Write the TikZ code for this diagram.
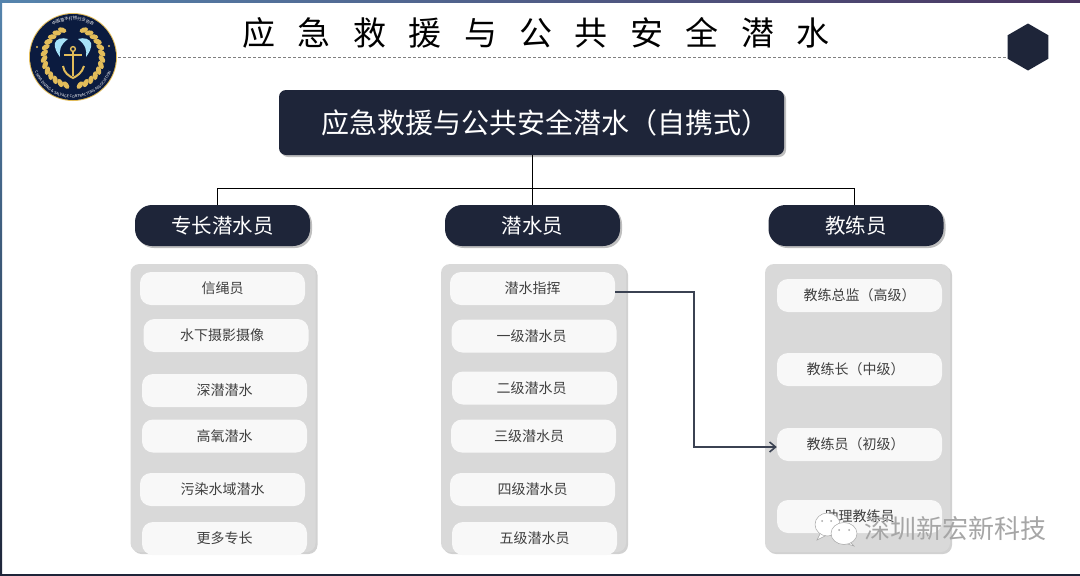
\documentclass[tikz,border=0pt]{standalone}
\usepackage{fontspec}
\usepackage{xcolor}
\setmainfont{Noto Sans CJK SC}
\newfontfamily\titlefont[LetterSpace=68]{Noto Sans CJK SC}
\usetikzlibrary{arrows.meta,positioning,calc,shapes.geometric,shadows,decorations.text}
\definecolor{navy}{HTML}{1E2539}
\definecolor{logonavy}{HTML}{0B1B3F}
\definecolor{gold}{HTML}{E2BC5A}
\definecolor{panelgray}{HTML}{D9D9D9}
\definecolor{itemwhite}{HTML}{F8F8F8}
\definecolor{linkgray}{HTML}{3B4252}
\definecolor{framestart}{HTML}{5584AD}
\definecolor{frameend}{HTML}{4A3560}

\begin{document}
\begin{tikzpicture}[
      x=1pt, y=-1pt,
      % Reusable styles
      rootbox/.style={
        fill=navy,
        text=white,
        rounded corners=7pt,
        minimum width=505pt,
        minimum height=65pt,
        inner sep=0pt,
        font=\fontsize{28}{30}\selectfont,
        drop shadow={shadow xshift=2pt, shadow yshift=-2pt, opacity=0.25, fill=black}
      },
      headbox/.style={
        fill=navy,
        text=white,
        rounded corners=17pt,
        minimum width=175pt,
        minimum height=41pt,
        inner sep=0pt,
        font=\fontsize{20.5}{24}\selectfont,
        drop shadow={shadow xshift=2pt, shadow yshift=-2pt, opacity=0.25, fill=black}
      },
      panel/.style={
        fill=panelgray,
        rounded corners=9pt,
        minimum width=185pt,
        minimum height=288pt,
        inner sep=0pt,
        drop shadow={shadow xshift=2pt, shadow yshift=-2pt, opacity=0.18, fill=black}
      },
      itembox/.style={
        fill=itemwhite,
        text=black!75,
        rounded corners=11pt,
        minimum width=165pt,
        minimum height=33pt,
        inner sep=0pt,
        font=\fontsize{14}{16}\selectfont
      },
      leaf/.style={fill=gold},
      link/.style={draw=black, line width=0.7pt},
      arrow/.style={-{Straight Barb[length=6pt,width=10pt]}, line width=1.6pt, draw=linkgray}
    ]
    \useasboundingbox (0,0) rectangle (1080,576);
    \fill[white] (0,0) rectangle (1080,576);

    % Frame
    \shade[left color=framestart, right color=frameend] (0,0) rectangle (1080,2);
    \shade[top color=framestart, bottom color=navy] (0,0) rectangle (2,576);
    \fill[navy] (0,574) rectangle (1080,576);

    % Logo
    \coordinate (logo) at (73,57);
    \fill[gold] (logo) circle[radius=44pt];
    \fill[logonavy] (logo) circle[radius=43pt];
    \foreach \a in {112,124,...,256} {
      \fill[leaf, shift={(logo)}, rotate=\a, shift={(29pt,0pt)}, rotate=-40] (0pt,0pt) ellipse[x radius=2.6pt, y radius=4.4pt];
    }
    \foreach \a in {-76,-64,...,68} {
      \fill[leaf, shift={(logo)}, rotate=\a, shift={(29pt,0pt)}, rotate=40] (0pt,0pt) ellipse[x radius=2.6pt, y radius=4.4pt];
    }
    \fill[gold] (37,47) circle[radius=1.2pt] (109,46) circle[radius=1.2pt];
    \fill[cyan!35] (68,39) .. controls (62,37) and (56,39) .. (55,43) .. controls (54,48) and (57,53) .. (60,57) .. controls (59,51) and (60,45) .. (68,39);
    \fill[cyan!35] (78,39) .. controls (84,37) and (90,39) .. (91,43) .. controls (92,48) and (89,53) .. (86,57) .. controls (87,51) and (86,45) .. (78,39);
    % Anchor
    \draw[gold, line width=1.4pt] (73,49) circle[radius=2.4pt];
    \draw[gold, line width=2.2pt] (73,51) -- (73,76);
    \draw[gold, line width=2pt] (64,55) -- (82,55);
    \draw[gold, line width=2pt] (63,66) .. controls (64,73) and (69,76) .. (73,78) .. controls (77,76) and (82,73) .. (84,66);
    \path[decorate, decoration={text along path, text align=center,
        text={|\fontsize{3.8}{5}\selectfont\color{white}|CHINA DIVING {\&} SALVAGE CONTRACTORS ASSOCIATION}}]
      ($(logo)+(172:41pt)$) arc[start angle=172, end angle=368, radius=41pt];
    \path[decorate, decoration={text along path, text align=center,
        text={|\fontsize{4.2}{5}\selectfont\color{white}|中国潜水打捞行业协会}}]
      ($(logo)+(145:37pt)$) arc[start angle=145, end angle=35, radius=37pt];

    % Title
    \node[font=\titlefont\fontsize{33}{36}\selectfont, inner sep=0pt] (title) at (536,33) {应急救援与公共安全潜水};
    \node[regular polygon, regular polygon sides=6, shape border rotate=30, fill=navy, minimum size=47pt, inner sep=0pt] (hexagon) at (1028,47) {};
    \coordinate (ruleend) at (118,57);
    \draw[gray, densely dashed, line width=0.8pt] (ruleend) -- (hexagon.west |- ruleend);

    % Nodes
    \node[rootbox] (root) at (531.5,122.5) {\hspace*{27pt}\raisebox{2pt}{应急救援与公共安全潜水（自携式）}};
    \node[headbox] (special) at (222.5,225.5) {专长潜水员};
    \node[headbox] (diver) at (532.5,225.5) {潜水员};
    \node[headbox] (coach) at (856,225.5) {教练员};

    \node[panel] (specialpanel) at (223,408) {};
    \node[panel] (diverpanel) at (533.5,408) {};
    \node[panel] (coachpanel) at (857.5,408) {};

    \node[itembox] (line) at (222.5,288.5) {信绳员};
    \node[itembox] (photo) at (226,335.5) {水下摄影摄像\hspace*{8pt}};
    \node[itembox] (deep) at (224.5,390.5) {深潜潜水};
    \node[itembox] (nitrox) at (224.5,436) {高氧潜水};
    \node[itembox] (polluted) at (222.5,489.5) {污染水域潜水};
    \node[itembox] (more) at (224.5,538.5) {更多专长};

    \node[itembox] (command) at (532.5,288.5) {潜水指挥};
    \node[itembox] (grade1) at (534,336) {一级潜水员\hspace*{5pt}};
    \node[itembox] (grade2) at (534.5,388) {二级潜水员\hspace*{6pt}};
    \node[itembox] (grade3) at (533.5,436) {三级潜水员\hspace*{9pt}};
    \node[itembox] (grade4) at (532.5,489.5) {四级潜水员};
    \node[itembox] (grade5) at (534.5,538.5) {五级潜水员};

    \node[itembox] (senior) at (859.5,295.5) {教练总监（高级）};
    \node[itembox] (middle) at (859.5,369.5) {\hspace*{-8pt}教练长（中级）};
    \node[itembox] (junior) at (859.5,444.5) {\hspace*{-8pt}教练员（初级）};
    \node[itembox] (assistant) at (859.5,516.5) {助理教练员};

    % Edges
    \coordinate (bus) at ([xshift=1pt]root.south |- 0,188);
    \draw[link] ([xshift=1pt]root.south) -- ([xshift=1pt]root.south |- diver.north);
    \draw[link] (bus) -| ([xshift=-5.5pt]special.north);
    \draw[link] (bus) -| ([xshift=-2pt]coach.north);
    \coordinate (turn) at (694,292);
    \draw[arrow] ([yshift=-3.5pt]command.east) -- (turn) -- ++(0,155) -- ([yshift=-2.5pt]junior.west);

    % Watermark
    \draw[fill=white, draw=gray!70, line width=0.5pt] (820,534) -- (817,540) -- (826,535.5);
    \fill[white, draw=gray!70, line width=0.5pt] (827.5,524.5) ellipse[x radius=12.5pt, y radius=11.5pt];
    \fill[gray!70] (822,521) circle[radius=1pt] (831,521) circle[radius=1pt];
    \draw[fill=white, draw=gray!70, line width=0.5pt] (850,542) -- (854,546) -- (846,543.5);
    \fill[white, draw=gray!70, line width=0.5pt] (844,533.5) ellipse[x radius=13pt, y radius=11pt];
    \fill[gray!70] (839,530) circle[radius=1pt] (849,530) circle[radius=1pt];
    \node[font=\fontsize{26}{28}\selectfont, text=black!35, inner sep=0pt] (mark) at (955,528.5) {深圳新宏新科技};
\end{tikzpicture}
\end{document}
